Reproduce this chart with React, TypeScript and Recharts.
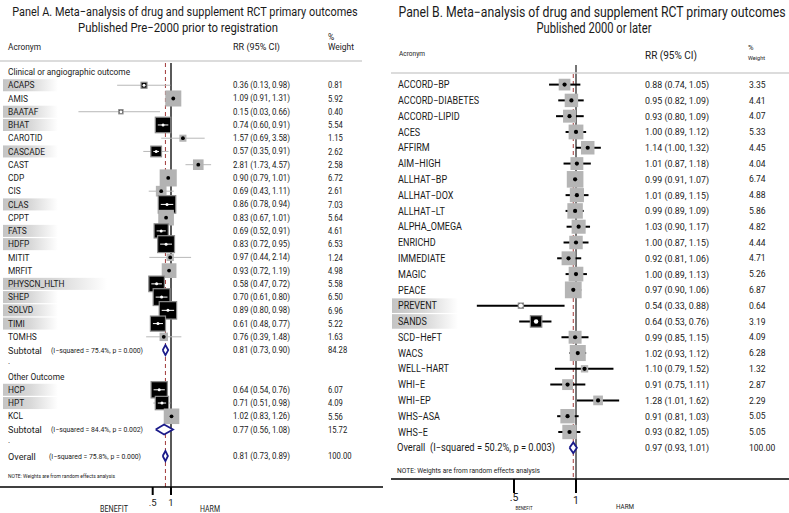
import React from 'react';
import { ScatterChart, Scatter, XAxis, YAxis, ReferenceLine, ErrorBar } from 'recharts';

const FONT = 'Roboto, "Noto Sans", sans-serif';

// ---------------- Panel A data ----------------
const titleA = ['Panel A. Meta\u2212analysis of drug and supplement RCT primary outcomes', 'Published Pre\u22122000 prior to registration'];
const groupNamesA = ['Clinical or angiographic outcome', 'Other Outcome'];
const groupSizesA = [20, 3];
const acronymsA = ['ACAPS', 'AMIS', 'BAATAF', 'BHAT', 'CAROTID', 'CASCADE', 'CAST', 'CDP', 'CIS', 'CLAS', 'CPPT', 'FATS', 'HDFP', 'MITIT', 'MRFIT', 'PHYSCN_HLTH', 'SHEP', 'SOLVD', 'TIMI', 'TOMHS', 'HCP', 'HPT', 'KCL'];
const rrA = [0.36, 1.09, 0.15, 0.74, 1.57, 0.57, 2.81, 0.90, 0.69, 0.86, 0.83, 0.69, 0.83, 0.97, 0.93, 0.58, 0.70, 0.89, 0.61, 0.76, 0.64, 0.71, 1.02];
const loA = [0.13, 0.91, 0.03, 0.60, 0.69, 0.35, 1.73, 0.79, 0.43, 0.78, 0.67, 0.52, 0.72, 0.44, 0.72, 0.47, 0.61, 0.80, 0.48, 0.39, 0.54, 0.51, 0.83];
const hiA = [0.98, 1.31, 0.66, 0.91, 3.58, 0.91, 4.57, 1.01, 1.11, 0.94, 1.01, 0.91, 0.95, 2.14, 1.19, 0.72, 0.80, 0.98, 0.77, 1.48, 0.76, 0.98, 1.26];
const weightA = [0.81, 5.92, 0.40, 5.54, 1.15, 2.62, 2.58, 6.72, 2.61, 7.03, 5.64, 4.61, 6.53, 1.24, 4.98, 5.58, 6.50, 6.96, 5.22, 1.63, 6.07, 4.09, 5.56];
const subtotalStatsA = ['(I\u2212squared = 75.4%, p = 0.000)', '(I\u2212squared = 84.4%, p = 0.002)'];
const subtotalRrA = [0.81, 0.77];
const subtotalLoA = [0.73, 0.56];
const subtotalHiA = [0.90, 1.08];
const subtotalWeightA = [84.28, 15.72];
const overallStatsA = '(I\u2212squared = 75.8%, p = 0.000)';
const overallRrA = 0.81;
const overallLoA = 0.73;
const overallHiA = 0.89;
const overallWeightA = 100.0;

// ---------------- Panel B data ----------------
const titleB = ['Panel B. Meta\u2212analysis of drug and supplement RCT primary outcomes', 'Published 2000 or later'];
const acronymsB = ['ACCORD\u2212BP', 'ACCORD\u2212DIABETES', 'ACCORD\u2212LIPID', 'ACES', 'AFFIRM', 'AIM\u2212HIGH', 'ALLHAT\u2212BP', 'ALLHAT\u2212DOX', 'ALLHAT\u2212LT', 'ALPHA_OMEGA', 'ENRICHD', 'IMMEDIATE', 'MAGIC', 'PEACE', 'PREVENT', 'SANDS', 'SCD\u2212HeFT', 'WACS', 'WELL\u2212HART', 'WHI\u2212E', 'WHI\u2212EP', 'WHS\u2212ASA', 'WHS\u2212E'];
const rrB = [0.88, 0.95, 0.93, 1.00, 1.14, 1.01, 0.99, 1.01, 0.99, 1.03, 1.00, 0.92, 1.00, 0.97, 0.54, 0.64, 0.99, 1.02, 1.10, 0.91, 1.28, 0.91, 0.93];
const loB = [0.74, 0.82, 0.80, 0.89, 1.00, 0.87, 0.91, 0.89, 0.89, 0.90, 0.87, 0.81, 0.89, 0.90, 0.33, 0.53, 0.85, 0.93, 0.79, 0.75, 1.01, 0.81, 0.82];
const hiB = [1.05, 1.09, 1.09, 1.12, 1.32, 1.18, 1.07, 1.15, 1.09, 1.17, 1.15, 1.06, 1.13, 1.06, 0.88, 0.76, 1.15, 1.12, 1.52, 1.11, 1.62, 1.03, 1.05];
const weightB = [3.35, 4.41, 4.07, 5.33, 4.45, 4.04, 6.74, 4.88, 5.86, 4.82, 4.44, 4.71, 5.26, 6.87, 0.64, 3.19, 4.09, 6.28, 1.32, 2.87, 2.29, 5.05, 5.05];
const overallStatsB = '(I\u2212squared = 50.2%, p = 0.003)';
const overallRrB = 0.97;
const overallLoB = 0.93;
const overallHiB = 1.01;
const overallWeightB = 100.0;

const xTicks = [0.5, 1];
const xTickLabels = ['.5', '1'];
const noteText = 'NOTE: Weights are from random effects analysis';

// ---------------- rows ----------------
type Row = { kind: 'head' | 'study' | 'pool' | 'dot'; label?: string; stats?: string; rr?: number; lo?: number; hi?: number; w?: number; overall?: boolean };

function buildRowsA(): Row[] {
  const rows: Row[] = [];
  let k = 0;
  groupSizesA.forEach((n, g) => {
    rows.push({ kind: 'head', label: groupNamesA[g] });
    for (let j = 0; j < n; j++, k++) rows.push({ kind: 'study', label: acronymsA[k], rr: rrA[k], lo: loA[k], hi: hiA[k], w: weightA[k] });
    rows.push({ kind: 'pool', label: 'Subtotal', stats: subtotalStatsA[g], rr: subtotalRrA[g], lo: subtotalLoA[g], hi: subtotalHiA[g], w: subtotalWeightA[g] });
    rows.push({ kind: 'dot' });
  });
  rows.push({ kind: 'pool', label: 'Overall', stats: overallStatsA, rr: overallRrA, lo: overallLoA, hi: overallHiA, w: overallWeightA, overall: true });
  return rows;
}
function buildRowsB(): Row[] {
  const rows: Row[] = acronymsB.map((a, i) => ({ kind: 'study', label: a, rr: rrB[i], lo: loB[i], hi: hiB[i], w: weightB[i] } as Row));
  rows.push({ kind: 'pool', label: 'Overall', stats: overallStatsB, rr: overallRrB, lo: overallLoB, hi: overallHiB, w: overallWeightB, overall: true });
  return rows;
}
const rowsA = buildRowsA();
const rowsB = buildRowsB();

const ci = (r: Row) => `${r.rr!.toFixed(2)} (${r.lo!.toFixed(2)}, ${r.hi!.toFixed(2)})`;

// ---------------- text helper ----------------
const T = ({ x, y, s, sx = 1, a = 'start', len, children, fill = '#1a1a1a' }: any) => (
  <text
    transform={`translate(${x},${y}) scale(${sx},1)`}
    fontSize={s}
    textAnchor={a}
    dominantBaseline="central"
    fill={fill}
    fontFamily={FONT}
    textLength={len}
    lengthAdjust={len ? 'spacingAndGlyphs' : undefined}
    xmlSpace="preserve"
  >
    {children}
  </text>
);

// ---------------- layouts ----------------
const cfgA = {
  left: 0, width: 390, height: 513, plotLeft: 0, plotRight: 383, x1: 171, k: 26.4,
  top: 63, axisY: 487, row0: 72, rowH: 384 / 29, dashTop: 63,
  sq: 6.6, diamondH: 0.38, sqFill: '#b3b3b3', ciStroke: '#b8b8b8', ciWidth: 1,
  refStroke: '#000', refWidth: 1.3, tickLen: 8, tickLabelY: [502, 502], tickFont: 9.5,
  sigLine: true, dotR: 1.9,
};
const cfgB = {
  left: 390, width: 399, height: 513, plotLeft: 1, plotRight: 399, x1: 186, k: 89.45,
  top: 65, axisY: 479, row0: 84.6, rowH: 15.79, dashTop: 74,
  sq: 6.4, diamondH: 0.34, sqFill: '#b5b5b5', ciStroke: '#000', ciWidth: 2,
  refStroke: '#666', refWidth: 1.8, tickLen: 14, tickLabelY: [497, 500], tickFont: 10.5,
  sigLine: false, dotR: 2.1,
};

// ---------------- row renderers ----------------
function renderRowA(r: Row, y: number) {
  const h = cfgA.rowH;
  if (r.kind === 'head') return <g><T x={8} y={y} s={9.3} sx={0.9}>{r.label}</T></g>;
  if (r.kind === 'dot') return <g><T x={8} y={y - 2} s={8}>.</T></g>;
  if (r.kind === 'study') {
    const sig = r.hi! < 1;
    return (
      <g>
        {sig && <rect x={3} y={y - h / 2 + 0.6} width={r.label!.length > 8 ? 104 : 55} height={h - 1.2} fill="url(#bandGrad)" />}
        <T x={8} y={y} s={9.3} sx={0.9}>{r.label}</T>
        <T x={233} y={y} s={9} len={57}>{ci(r)}</T>
        <T x={328} y={y} s={9} sx={0.85}>{r.w!.toFixed(2)}</T>
      </g>
    );
  }
  return (
    <g>
      <T x={8} y={y} s={9.6} sx={0.95}>{r.label}</T>
      <T x={r.overall ? 49 : 51} y={y + 0.5} s={7} sx={0.98}>{r.stats}</T>
      <T x={233} y={y} s={9} len={57}>{ci(r)}</T>
      <T x={328} y={y} s={9} sx={0.85}>{r.w!.toFixed(2)}</T>
    </g>
  );
}

function renderRowB(r: Row, y: number) {
  const h = cfgB.rowH;
  if (r.kind === 'study') {
    const sig = r.hi! < 1;
    return (
      <g>
        {sig && <rect x={2} y={y - h / 2 + 0.6} width={66} height={h - 1.2} fill="url(#bandGrad)" />}
        <T x={8} y={y} s={10} sx={0.9}>{r.label}</T>
        <T x={255} y={y} s={9.5} len={64}>{ci(r)}</T>
        <T x={359} y={y} s={9.5} sx={0.9}>{r.w!.toFixed(2)}</T>
      </g>
    );
  }
  return (
    <g>
      <T x={7} y={y} s={10} len={158}>{`${r.label}  ${r.stats}`}</T>
      <T x={255} y={y} s={9.5} len={64}>{ci(r)}</T>
      <T x={359} y={y} s={9.5} sx={0.9}>{r.w!.toFixed(2)}</T>
    </g>
  );
}

// ---------------- panel ----------------
function Panel({ cfg, rows, overall, renderRow }: any) {
  const xDomain = [Math.exp(-(cfg.x1 - cfg.plotLeft) / cfg.k), Math.exp((cfg.plotRight - cfg.x1) / cfg.k)];
  const yDomain = [(cfg.top - cfg.row0) / cfg.rowH, (cfg.axisY - cfg.row0) / cfg.rowH];
  const dashTopRow = (cfg.dashTop - cfg.row0) / cfg.rowH;
  const labelPts = rows.map((r: Row, i: number) => ({ x: 1, y: i, row: i }));
  const pts = rows
    .map((r: Row, i: number) => (r.kind === 'study' ? { x: r.rr, y: i, w: r.w, sig: r.hi! < 1, err: [r.rr! - r.lo!, r.hi! - r.rr!] } : null))
    .filter(Boolean);
  const diamonds = rows
    .map((r: Row, i: number) => (r.kind === 'pool'
      ? [
          { x: r.lo, y: i },
          { x: r.rr, y: i - cfg.diamondH },
          { x: r.hi, y: i },
          { x: r.rr, y: i + cfg.diamondH },
          { x: r.lo, y: i },
        ]
      : null))
    .filter(Boolean);

  const labelShape = (p: any) => renderRow(rows[p.payload.row], p.cy);
  const square = (p: any) => {
    const { cx, cy, payload } = p;
    const s = cfg.sq * Math.sqrt(payload.w);
    if (payload.sig) return <rect x={cx - s / 2} y={cy - s / 2} width={s} height={s} fill="#000" stroke="#8c8c8c" strokeWidth={1.2} />;
    return <rect x={cx - s / 2} y={cy - s / 2} width={s} height={s} fill={cfg.sqFill} />;
  };
  const dot = (p: any) => {
    const { cx, cy, payload } = p;
    const s = cfg.sq * Math.sqrt(payload.w);
    if (payload.sig) {
      return (
        <g>
          {cfg.sigLine && s > 7 && <line x1={cx - s / 2 + 2.5} x2={cx + s / 2 - 2.5} y1={cy} y2={cy} stroke="#fff" strokeWidth={1} />}
          <circle cx={cx} cy={cy} r={cfg.sigLine ? 1.5 : 2.2} fill="#fff" />
        </g>
      );
    }
    return <circle cx={cx} cy={cy} r={cfg.dotR} fill="#000" />;
  };
  const xTick = (p: any) => {
    const { x, payload } = p;
    const i = xTicks.indexOf(payload.value);
    return (
      <text x={x} y={cfg.tickLabelY[i]} textAnchor="middle" dominantBaseline="central" fontSize={cfg.tickFont} fontFamily={FONT} fill="#1a1a1a">
        {xTickLabels[i]}
      </text>
    );
  };

  return (
    <ScatterChart
      width={cfg.width}
      height={cfg.height}
      margin={{ top: cfg.top, right: cfg.width - cfg.plotRight, bottom: 0, left: cfg.plotLeft }}
    >
      <XAxis
        type="number"
        dataKey="x"
        scale="log"
        domain={xDomain}
        allowDataOverflow
        ticks={xTicks}
        interval={0}
        height={cfg.height - cfg.axisY}
        axisLine={{ stroke: '#000', strokeWidth: 1.5 }}
        tickLine={{ stroke: '#000', strokeWidth: 2 }}
        tickSize={cfg.tickLen}
        tick={xTick}
      />
      <YAxis
        type="number"
        dataKey="y"
        domain={yDomain}
        reversed
        allowDataOverflow
        width={0}
        axisLine={false}
        tickLine={false}
        tick={false}
      />
      <Scatter data={labelPts} shape={labelShape} isAnimationActive={false} />
      <ReferenceLine
        segment={[{ x: overall, y: dashTopRow }, { x: overall, y: yDomain[1] }]}
        stroke="#a23a3a"
        strokeDasharray="4 3"
        strokeWidth={1}
        ifOverflow="visible"
      />
      <ReferenceLine x={1} stroke={cfg.refStroke} strokeWidth={cfg.refWidth} />
      <Scatter data={pts} shape={square} isAnimationActive={false} />
      <Scatter data={pts} shape={dot} isAnimationActive={false}>
        <ErrorBar dataKey="err" direction="x" width={0} stroke={cfg.ciStroke} strokeWidth={cfg.ciWidth} isAnimationActive={false} />
      </Scatter>
      {diamonds.map((d: any, i: number) => (
        <Scatter
          key={i}
          data={d}
          shape={() => <g />}
          line={{ stroke: '#1b1b8a', strokeWidth: 1.8, fill: '#fff' }}
          lineType="joint"
          isAnimationActive={false}
        />
      ))}
    </ScatterChart>
  );
}

export default function App() {
  return (
    <div style={{ position: 'absolute', left: 0, top: 0, width: 789, height: 513, background: '#fff', overflow: 'hidden' }}>
      <div style={{ position: 'absolute', left: cfgA.left, top: 0 }}>
        <Panel cfg={cfgA} rows={rowsA} overall={overallRrA} renderRow={renderRowA} />
      </div>
      <div style={{ position: 'absolute', left: cfgB.left, top: 0 }}>
        <Panel cfg={cfgB} rows={rowsB} overall={overallRrB} renderRow={renderRowB} />
      </div>
      <svg width={789} height={513} style={{ position: 'absolute', left: 0, top: 0, pointerEvents: 'none' }}>
        <defs>
          <linearGradient id="bandGrad" x1="0" y1="0" x2="1" y2="0">
            <stop offset="0" stopColor="#c4c4c4" />
            <stop offset="0.5" stopColor="#d8d8d8" />
            <stop offset="1" stopColor="#ffffff" />
          </linearGradient>
        </defs>
        {/* Panel A static text */}
        <T x={185} y={12} s={13} sx={0.84} a="middle">{titleA[0]}</T>
        <T x={178} y={27.5} s={13} sx={0.87} a="middle">{titleA[1]}</T>
        <T x={8} y={47} s={9} len={33}>Acronym</T>
        <T x={233} y={47} s={9} len={47}>RR (95% CI)</T>
        <T x={328} y={37} s={8.5}>%</T>
        <T x={328} y={47} s={9} len={26}>Weight</T>
        <line x1={0} x2={362} y1={61} y2={61} stroke="#d0d0d0" strokeWidth={1.5} />
        <T x={8} y={476} s={5} len={107}>{noteText}</T>
        <T x={114} y={509} s={9} a="middle" len={28}>BENEFIT</T>
        <T x={210} y={509} s={9} a="middle" len={20}>HARM</T>
        {/* Panel B static text */}
        <T x={592} y={12} s={14} sx={0.875} a="middle">{titleB[0]}</T>
        <T x={594} y={28.5} s={14} sx={0.8} a="middle">{titleB[1]}</T>
        <T x={399} y={54} s={7} len={26}>Acronym</T>
        <T x={645} y={55} s={10} len={52}>RR (95% CI)</T>
        <T x={748} y={47} s={7.5}>%</T>
        <T x={748} y={57} s={6} len={17}>Weight</T>
        <line x1={391} x2={789} y1={73} y2={73} stroke="#d0d0d0" strokeWidth={1.5} />
        <T x={397} y={471} s={7} len={143}>{noteText}</T>
        <T x={524} y={507} s={6} a="middle" len={17}>BENEFIT</T>
        <T x={625} y={507} s={6.5} a="middle" len={18}>HARM</T>
      </svg>
    </div>
  );
}
